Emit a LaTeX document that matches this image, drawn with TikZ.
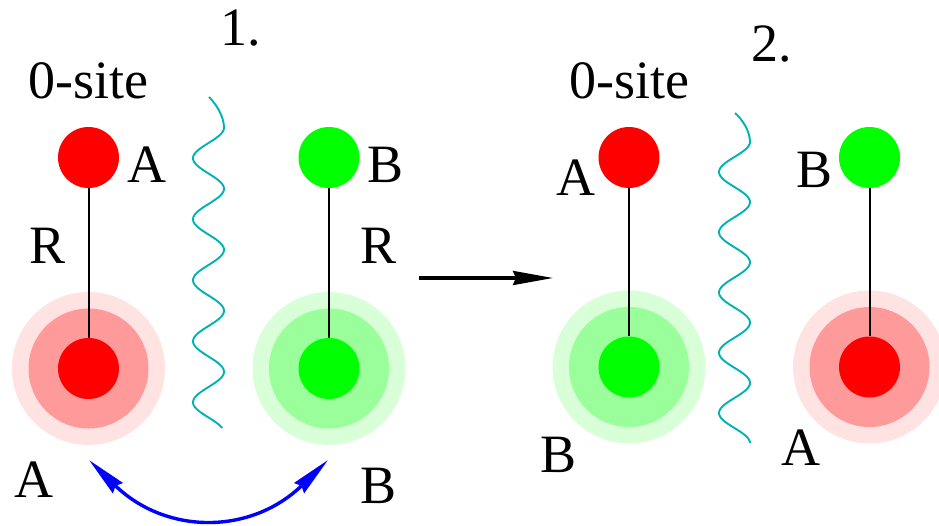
\documentclass[tikz,border=0pt]{standalone}
\usepackage{fontspec}
\setmainfont{Liberation Serif}
\usetikzlibrary{arrows.meta}
\definecolor{wavec}{RGB}{0,178,178}
\definecolor{redmid}{RGB}{255,154,154}
\definecolor{redout}{RGB}{255,227,227}
\definecolor{greenmid}{RGB}{154,255,154}
\definecolor{greenout}{RGB}{216,255,216}
\definecolor{arcblue}{RGB}{0,0,255}
\tikzset{bigtip/.tip={Stealth[length=40pt,width=14pt,inset=3pt]}}
\begin{document}
\begin{tikzpicture}[x=1pt,y=-1pt,
  lbl/.style={anchor=base west, inner sep=0pt, font=\fontsize{54}{60}\selectfont},
  atom/.style={circle, inner sep=0pt, minimum size=61pt},
  redatom/.style={atom, fill=red},
  greenatom/.style={atom, fill=green},
  outring/.style={circle, inner sep=0pt, minimum size=153pt},
  midring/.style={circle, inner sep=0pt, minimum size=120pt},
  bond/.style={black, line width=2pt},
  wave/.style={wavec, line width=1.9pt},
]
\useasboundingbox (0,0) rectangle (939,525);
\clip (0,0) rectangle (939,525);

% ---------- panel 1 ----------
\node[outring, fill=redout]   (r1o) at (88.5,368.5) {};
\node[midring, fill=redmid]   (r1m) at (88.5,368.5) {};
\node[outring, fill=greenout] (g1o) at (329,368.5) {};
\node[midring, fill=greenmid] (g1m) at (329,368.5) {};
\node[redatom]   (a1top) at (88.5,157.5) {};
\node[redatom]   (a1bot) at (88.5,368.5) {};
\node[greenatom] (b1top) at (329,157.5) {};
\node[greenatom] (b1bot) at (329,368.5) {};
\draw[bond] (a1top.south) -- (a1bot.north);
\draw[bond] (b1top.south) -- (b1bot.north);

\draw[wave] (209,97) .. controls (216,104) and (224,116) .. (224,127.75)
  -- plot[variable=\t, domain=127.75:428, samples=160, smooth]
     ({208.5+15.5*sin(5.9016*(\t-112.5))}, \t);

\node[lbl] (one)   at (220,45)  {1.};
\node[lbl] (site1) at (28,98)   {0-site};
\node[lbl] (lA1)   at (127,182) {A};
\node[lbl] (lB1)   at (367,182) {B};
\node[lbl] (lR1)   at (29,263)  {R};
\node[lbl] (lR2)   at (360,263) {R};
\node[lbl] (lA2)   at (14,497)  {A};
\node[lbl] (lB2)   at (360,503) {B};

\coordinate (s1) at (89,460);
\coordinate (s2) at (328,460);
\draw[arcblue, line width=3.4pt, bigtip-bigtip]
  (s1) .. controls (166,535) and (251,535) .. (s2);

% ---------- middle arrow ----------
\coordinate (m1) at (419,278);
\coordinate (m2) at (553,278);
\draw[black, line width=3.2pt, -bigtip] (m1) -- (m2);

% ---------- panel 2 ----------
\node[outring, fill=greenout] (g2o) at (629,367) {};
\node[midring, fill=greenmid] (g2m) at (629,367) {};
\node[outring, fill=redout]   (r2o) at (869.5,367) {};
\node[midring, fill=redmid]   (r2m) at (869.5,367) {};
\node[redatom]   (a2top) at (629,157.5) {};
\node[greenatom] (b2bot) at (629,367) {};
\node[greenatom] (b2top) at (869.5,157.5) {};
\node[redatom]   (a2bot) at (869.5,367) {};
\draw[bond] (a2top.south) -- (b2bot.north);
\draw[bond] (b2top.south) -- (a2bot.north);

\draw[wave] (735,113) .. controls (742,119) and (750,131) .. (750,141.9)
  -- plot[variable=\t, domain=141.9:443, samples=160, smooth]
     ({734.5+15.5*sin(5.9751*(\t-126.8))}, \t);

\node[lbl] (two)   at (751,61)  {2.};
\node[lbl] (site2) at (569,98)  {0-site};
\node[lbl] (lA3)   at (556,195) {A};
\node[lbl] (lB3)   at (796,187) {B};
\node[lbl] (lB4)   at (540,472) {B};
\node[lbl] (lA4)   at (781,465) {A};
\end{tikzpicture}
\end{document}
